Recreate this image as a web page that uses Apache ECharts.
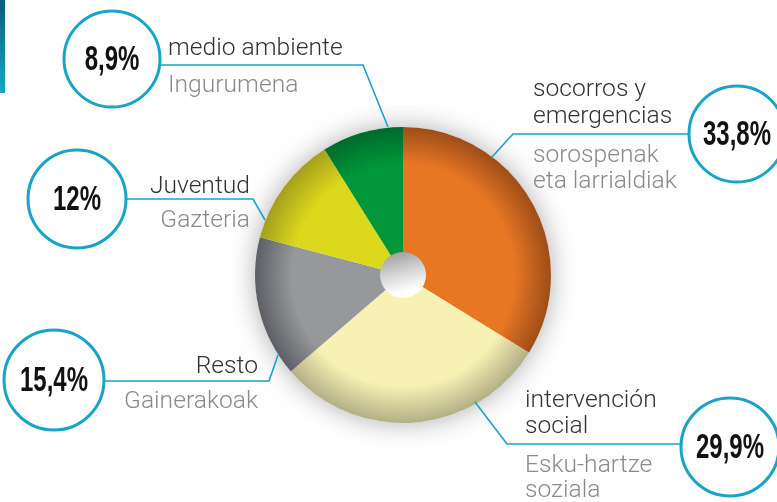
<!DOCTYPE html>
<html><head><meta charset="utf-8">
<script src="https://cdn.jsdelivr.net/npm/echarts@6/dist/echarts.min.js"></script>
<style>html,body{margin:0;padding:0;background:#fff}#c{width:777px;height:502px}</style>
</head><body><div id="c"></div>
<script>
// ---- data ----
const categories = ['socorros y\nemergencias', 'intervención\nsocial', 'Resto', 'Juventud', 'medio ambiente'];
const basqueLabels = ['sorospenak\neta larrialdiak', 'Esku-hartze\nsoziala', 'Gainerakoak', 'Gazteria', 'Ingurumena'];
const values = [33.8, 29.9, 15.4, 12, 8.9];

// ---- styles ----
const baseColors = ['#E87724', '#F7F2B4', '#97989B', '#DCD81C', '#009639'];
const edgeColors = ['#9E4D18', '#B3AF86', '#5E5F64', '#A39F1E', '#006A2C'];
const CX = 403, CY = 275, R = 148, HOLE = 23;
const BLUE = '#1AA3C8';

// callout layout: circle centre, radius, leader line path, text positions
const layout = [
  {c:[737,134], r:48, line:[[689,134],[513,134],[492,157]], es:{x:533,y:77,align:'left',lh:27}, eu:{x:533,y:143,align:'left',lh:26}},
  {c:[730,447], r:49, line:[[682,444],[507,444],[475,402]], es:{x:525,y:388,align:'left',lh:26}, eu:{x:525,y:454,align:'left',lh:25}},
  {c:[54,380], r:50, line:[[104,381],[269,381],[278,355]], es:{x:258,y:354,align:'right',lh:26}, eu:{x:258,y:389,align:'right',lh:26}},
  {c:[77,199], r:49, line:[[126,199],[253,199],[265,220]], es:{x:250,y:174,align:'right',lh:26}, eu:{x:250,y:208,align:'right',lh:26}},
  {c:[112,59], r:48, line:[[160,65],[363,65],[388,127]], es:{x:168,y:36,align:'left',lh:26}, eu:{x:168,y:73,align:'left',lh:26}}
];

const fmt = v => String(v).replace('.', ',') + '%';

const chart = echarts.init(document.getElementById('c'), null, {renderer:'canvas'});

const pieData = values.map((v, i) => ({
  name: categories[i],
  value: v,
  itemStyle: {
    color: {type:'radial', x:CX, y:CY, r:R, global:true,
      colorStops:[{offset:0,color:baseColors[i]},{offset:0.75,color:baseColors[i]},{offset:1,color:edgeColors[i]}]}
  }
}));

const labelFont = {fontFamily:'Roboto', fontWeight:300, fontSize:23};
const graphics = [
  {type:'rect', shape:{x:0,y:0,width:5,height:93}, style:{fill:{type:'linear',x:0,y:0,x2:0,y2:1,colorStops:[{offset:0,color:'#0B5E78'},{offset:1,color:'#18A6C8'}]}}}
];
layout.forEach((L, i) => {
  graphics.push({type:'polyline', shape:{points:L.line}, style:{stroke:BLUE, lineWidth:1.6, fill:null}, z:10});
  graphics.push({type:'circle', shape:{cx:L.c[0], cy:L.c[1], r:L.r}, style:{fill:'#fff', stroke:BLUE, lineWidth:3}, z:11});
  graphics.push({type:'text', x:L.c[0], y:L.c[1]+1, scaleX:0.8, scaleY:1.15, style:{text:fmt(values[i]), x:0, y:0, align:'center', verticalAlign:'middle', fontFamily:'"Liberation Sans",Arial,sans-serif', fontWeight:'bold', fontSize:30, fill:'#111'}, z:12});
  graphics.push({type:'text', x:L.es.x, y:L.es.y, scaleX:1.07, style:Object.assign({text:categories[i], x:0, y:0, align:L.es.align, verticalAlign:'top', lineHeight:L.es.lh, fill:'#333'}, labelFont), z:12});
  graphics.push({type:'text', x:L.eu.x, y:L.eu.y, scaleX:1.07, style:Object.assign({text:basqueLabels[i], x:0, y:0, align:L.eu.align, verticalAlign:'top', lineHeight:L.eu.lh, fill:'#8a8a8a'}, labelFont), z:12});
});

chart.setOption({
  animation:false,
  backgroundColor:'#fff',
  series:[
    {type:'pie', silent:true, z:1, center:[CX,CY], radius:[0,R], label:{show:false}, labelLine:{show:false},
     data:[{value:1, itemStyle:{color:'#fff', shadowBlur:26, shadowColor:'rgba(0,0,0,0.32)'}}]},
    {type:'pie', z:2, center:[CX,CY], radius:[0,R], startAngle:90, clockwise:true, label:{show:false}, labelLine:{show:false},
     itemStyle:{borderWidth:0}, emphasis:{disabled:true}, data:pieData},
    {type:'pie', silent:true, z:3, center:[CX,CY], radius:[0,HOLE], label:{show:false}, labelLine:{show:false},
     data:[{value:1, itemStyle:{color:{type:'linear', global:true, x:CX-6, y:CY-HOLE, x2:CX+6, y2:CY+HOLE,
       colorStops:[{offset:0,color:'#A0A0A0'},{offset:0.45,color:'#D6D6D6'},{offset:0.85,color:'#FFFFFF'},{offset:1,color:'#FFFFFF'}]}}}]}
  ],
  graphic: graphics
});
</script></body></html>
